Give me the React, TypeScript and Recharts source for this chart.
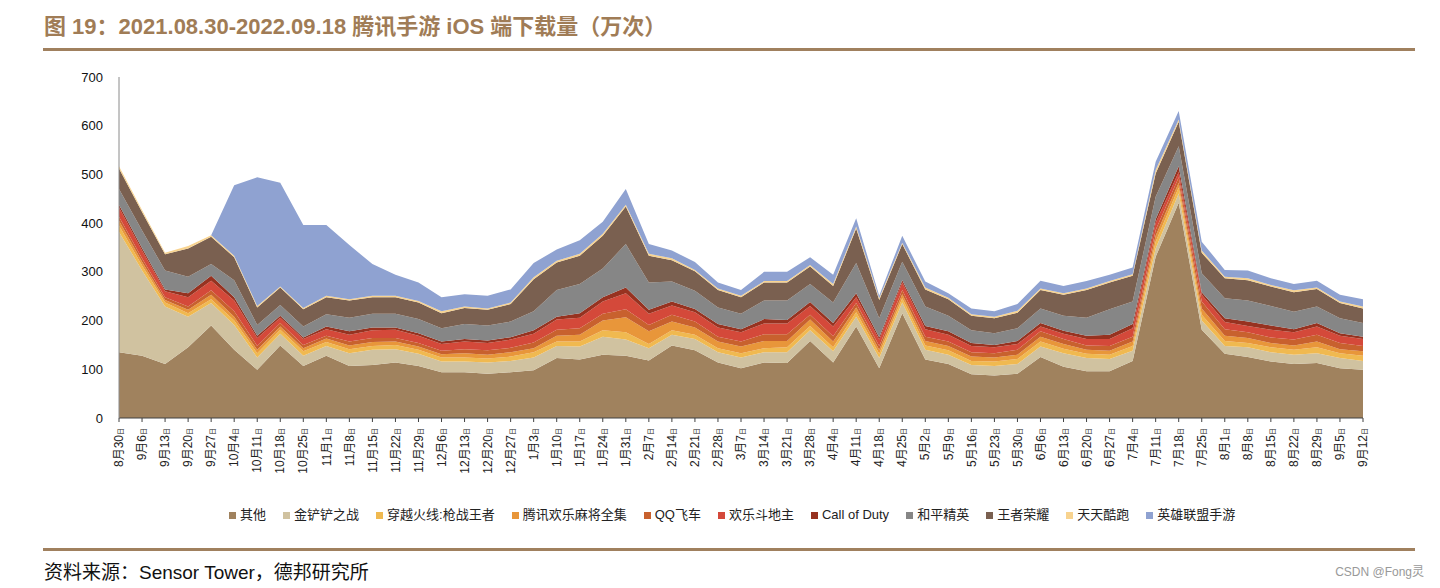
import React from 'react';
import { AreaChart, Area, XAxis, YAxis, Legend } from 'recharts';

const dates = ['8月30日','9月6日','9月13日','9月20日','9月27日','10月4日','10月11日','10月18日','10月25日','11月1日','11月8日','11月15日','11月22日','11月29日','12月6日','12月13日','12月20日','12月27日','1月3日','1月10日','1月17日','1月24日','1月31日','2月7日','2月14日','2月21日','2月28日','3月7日','3月14日','3月21日','3月28日','4月4日','4月11日','4月18日','4月25日','5月2日','5月9日','5月16日','5月23日','5月30日','6月6日','6月13日','6月20日','6月27日','7月4日','7月11日','7月18日','7月25日','8月1日','8月8日','8月15日','8月22日','8月29日','9月5日','9月12日'];

const qita = [135,128,111,145,190,140,99,149,107,128,107,109,114,107,94,94,91,94,98,123,120,130,128,118,149,139,114,102,114,113,158,114,188,102,215,120,111,90,87,91,125,105,96,96,117,331,442,181,132,125,116,111,113,102,99];
const jinchanchan = [247,175,118,63,46,51,25,24,21,20,26,31,27,25,22,22,23,23,26,25,27,37,33,25,22,23,21,22,21,22,22,23,20,21,22,20,19,19,20,20,22,28,27,25,21,17,19,19,16,20,19,19,20,21,18];
const chuanyue = [13,10,8,7,8,9,9,8,9,8,8,8,9,8,8,8,8,9,11,9,10,13,15,9,9,9,8,9,8,10,9,8,9,9,9,9,9,8,9,10,10,9,9,9,10,14,12,12,10,9,10,10,12,10,11];
const majiang = [10,8,5,7,9,8,7,7,6,7,8,8,7,7,7,9,8,9,8,12,14,20,31,26,18,15,14,14,15,13,13,12,10,8,8,9,9,9,8,9,10,10,8,8,9,12,10,13,11,10,9,9,12,8,9];
const qqfeiche = [8,7,6,7,9,11,8,7,7,6,8,8,7,7,7,8,9,9,12,12,13,14,16,13,14,12,10,10,14,14,10,11,9,8,9,9,9,9,9,10,11,10,9,10,10,12,11,14,13,12,11,12,14,13,11];
const doudizhu = [19,16,12,19,20,22,16,11,12,13,14,16,17,15,14,16,15,17,18,21,22,25,33,23,19,19,19,19,22,22,18,20,12,13,15,15,14,13,12,12,10,11,13,14,17,15,11,14,15,13,16,15,17,15,14];
const cod = [6,5,4,8,10,7,5,4,3,6,7,6,5,5,5,5,5,5,7,6,9,9,12,8,8,7,7,6,9,7,8,7,8,5,5,7,7,6,5,6,7,6,7,9,9,7,12,5,8,9,9,6,7,5,5];
const heping = [32,36,39,34,24,35,22,22,23,25,28,28,28,29,27,31,31,32,39,55,60,59,89,56,41,37,34,32,38,40,37,42,62,39,38,40,32,26,24,26,30,31,37,52,46,46,41,39,41,43,40,36,34,31,28];
const wangzhe = [42,38,33,58,56,47,36,36,35,35,35,34,34,34,31,33,32,36,66,56,58,67,77,55,44,40,36,34,37,37,36,34,71,37,36,35,34,30,31,32,38,43,57,55,53,48,50,42,41,42,40,40,36,31,30];
const tiantian = [5,4,3,5,3,3,3,2,3,3,3,3,3,3,4,3,3,3,4,4,4,4,4,4,4,3,3,3,3,3,3,4,4,4,3,4,3,3,3,4,3,3,3,3,3,7,5,5,3,4,3,4,3,3,4];
const lol = [0,0,0,0,0,145,264,213,170,145,111,65,43,38,29,25,26,27,29,23,28,25,32,20,16,16,12,12,19,19,16,19,17,5,14,12,9,12,11,14,16,15,15,13,14,17,17,18,14,16,14,13,14,14,15];

const seriesNames = ['其他','金铲铲之战','穿越火线:枪战王者','腾讯欢乐麻将全集','QQ飞车','欢乐斗地主','Call of Duty','和平精英','王者荣耀','天天酷跑','英雄联盟手游'];
const seriesKeys = ['qita','jinchanchan','chuanyue','majiang','qqfeiche','doudizhu','cod','heping','wangzhe','tiantian','lol'];
const seriesValues = [qita,jinchanchan,chuanyue,majiang,qqfeiche,doudizhu,cod,heping,wangzhe,tiantian,lol];
const seriesColors = ['#A0825E','#D0C2A0','#F0B950','#E8963A','#C8612E','#D4493A','#973220','#868686','#7A6050','#F8D38F','#8FA2D1'];
const yTicks = [0,100,200,300,400,500,600,700];

const data = dates.map((d, i) => {
  const row: Record<string, string | number> = { date: d };
  seriesKeys.forEach((k, j) => { row[k] = seriesValues[j][i]; });
  return row;
});

const FONT = '"Liberation Sans", Arial, "Noto Sans CJK SC", sans-serif';

const XTick = (props: any) => {
  const { x, y, payload } = props;
  const label: string = payload.value;
  const main = label.slice(0, -1);
  const last = label.slice(-1);
  return (
    <text x={x} y={y} transform={`rotate(-90, ${x}, ${y})`} textAnchor="end" dy="0.35em" fontSize={12} fill="#222" fontFamily={FONT}>
      {main}
      <tspan fontSize={7}>{last}</tspan>
    </text>
  );
};

const LegendContent = () => (
  <div style={{ display: 'flex', alignItems: 'center', fontFamily: FONT, fontSize: 13, color: '#222' }}>
    {seriesNames.map((n, i) => (
      <div key={n} style={{ display: 'flex', alignItems: 'center', marginRight: 17 }}>
        <span style={{ display: 'inline-block', width: 7, height: 7, background: seriesColors[i], marginRight: 4 }} />
        <span style={{ lineHeight: '16px' }}>{n}</span>
      </div>
    ))}
  </div>
);

export default function App() {
  return (
    <div style={{ position: 'absolute', left: 0, top: 0, width: 1440, height: 588, background: '#fff', overflow: 'hidden' }}>
      <div style={{ position: 'absolute', left: 44, top: 16, fontFamily: FONT, fontSize: 22, lineHeight: '22px', fontWeight: 'bold', color: '#A07C56', whiteSpace: 'nowrap' }}>
        图 19：2021.08.30-2022.09.18 腾讯手游 iOS 端下载量（万次）
      </div>
      <div style={{ position: 'absolute', left: 43, top: 48, width: 1372, height: 3, background: '#A0805E' }} />
      <div style={{ position: 'absolute', left: 0, top: 0 }}>
        <AreaChart width={1440} height={588} data={data} margin={{ top: 77, right: 77, left: 59, bottom: 110 }}>
          <XAxis dataKey="date" interval={0} height={60} tick={<XTick />} tickSize={4} tickMargin={6} axisLine={{ stroke: '#404040' }} tickLine={{ stroke: '#404040' }} />
          <YAxis width={60} domain={[0, 700]} ticks={yTicks} tickLine={false} tickSize={6} tickMargin={10} axisLine={{ stroke: '#8a8a8a' }} tick={{ fontSize: 13, fill: '#111', fontFamily: FONT }} />
          {seriesKeys.map((k, i) => (
            <Area key={k} type="linear" dataKey={k} name={seriesNames[i]} stackId="1" stroke="none" fill={seriesColors[i]} fillOpacity={1} isAnimationActive={false} />
          ))}
          <Legend layout="horizontal" verticalAlign="middle" align="center" content={<LegendContent />} wrapperStyle={{ position: 'absolute', left: 229, top: 507, width: 1100, height: 16 }} />
        </AreaChart>
      </div>
      <div style={{ position: 'absolute', left: 43, top: 548, width: 1372, height: 3, background: '#A0805E' }} />
      <div style={{ position: 'absolute', left: 44, top: 563, fontFamily: FONT, fontSize: 19, lineHeight: '20px', color: '#111', whiteSpace: 'nowrap' }}>
        资料来源：Sensor Tower，德邦研究所
      </div>
      <div style={{ position: 'absolute', right: 16, top: 565, fontFamily: FONT, fontSize: 12, lineHeight: '14px', color: '#999', whiteSpace: 'nowrap' }}>
        CSDN @Fong灵
      </div>
    </div>
  );
}
